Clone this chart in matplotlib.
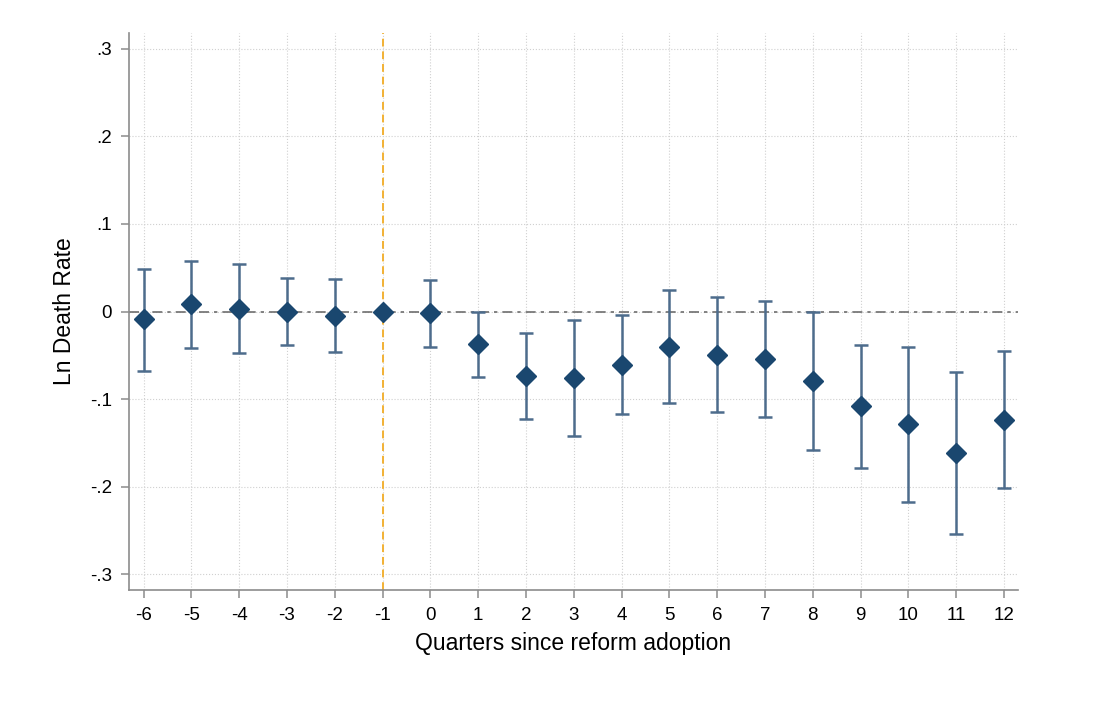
import matplotlib.pyplot as plt
from matplotlib.ticker import FuncFormatter

plt.rcParams['font.family'] = ['Liberation Sans', 'DejaVu Sans']
plt.rcParams['axes.unicode_minus'] = False

# datos
quarters = [-6, -5, -4, -3, -2, -1, 0, 1, 2, 3, 4, 5, 6, 7, 8, 9, 10, 11, 12]
coef = [-0.009, 0.008, 0.003, 0.000, -0.005, 0.000, -0.002, -0.037, -0.074, -0.076,
        -0.061, -0.040, -0.050, -0.054, -0.079, -0.108, -0.129, -0.162, -0.124]
ci_hi = [0.049, 0.058, 0.054, 0.038, 0.037, 0.000, 0.036, 0.000, -0.025, -0.010,
         -0.004, 0.024, 0.016, 0.012, -0.001, -0.038, -0.041, -0.069, -0.045]
ci_lo = [-0.068, -0.042, -0.047, -0.038, -0.046, 0.000, -0.041, -0.075, -0.123, -0.142,
         -0.117, -0.105, -0.115, -0.120, -0.158, -0.179, -0.217, -0.254, -0.202]
yticks = [-0.3, -0.2, -0.1, 0, 0.1, 0.2, 0.3]

fig = plt.figure(figsize=(10.98, 7.18), dpi=100)
ax = fig.add_axes([0.1172, 0.1783, 0.8098, 0.7757])

# intervalos (sin el periodo de referencia)
xs = [q for q, h, l in zip(quarters, ci_hi, ci_lo) if h != l]
his = [h for q, h, l in zip(quarters, ci_hi, ci_lo) if h != l]
los = [l for q, h, l in zip(quarters, ci_hi, ci_lo) if h != l]
cs = [c for c, h, l in zip(coef, ci_hi, ci_lo) if h != l]
ax.errorbar(xs, cs, yerr=[[c - l for c, l in zip(cs, los)], [h - c for c, h in zip(cs, his)]],
            fmt='none', ecolor='#4d6c8c', elinewidth=1.8, capsize=5, capthick=1.8, zorder=3)
ax.plot(quarters, coef, 'D', color='#1a476f', markersize=10.5, zorder=4)

ax.axhline(0, color='#6e6e6e', linestyle=(0, (6, 3, 2, 3)), linewidth=1.2, zorder=2)
ax.axvline(-1, color='#f2b134', linestyle=(0, (4, 2.5)), linewidth=1.4, zorder=2)

ax.set_xlim(-6.31, 12.29)
ax.set_ylim(-0.318, 0.318)
ax.set_xticks(quarters)
ax.set_yticks(yticks)
ax.yaxis.set_major_formatter(FuncFormatter(
    lambda v, p: '0' if abs(v) < 1e-9 else ('%.1f' % v).replace('0.', '.')))
ax.grid(True, linestyle=':', color='#d0d0d0', linewidth=0.8)
ax.set_axisbelow(True)

for s in ['top', 'right']:
    ax.spines[s].set_visible(False)
for s in ['left', 'bottom']:
    ax.spines[s].set_color('#8c8c8c')
    ax.spines[s].set_linewidth(1.2)
ax.tick_params(direction='out', length=6, width=1.1, color='#8c8c8c',
               labelsize=13.5, pad=6)

ax.set_xlabel('Quarters since reform adoption', fontsize=16.5, labelpad=6)
ax.set_ylabel('Ln Death Rate', fontsize=16.5, labelpad=10)

plt.savefig('out.png', dpi=100)
